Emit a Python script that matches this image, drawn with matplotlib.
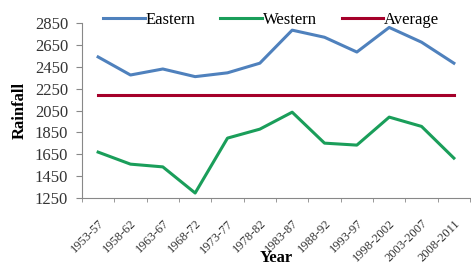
import matplotlib
matplotlib.use("Agg")
import matplotlib.pyplot as plt
import numpy as np

periods = ["1953-57", "1958-62", "1963-67", "1968-72", "1973-77", "1978-82",
           "1983-87", "1988-92", "1993-97", "1998-2002", "2003-2007", "2008-2011"]
eastern = [2540, 2375, 2430, 2360, 2395, 2483, 2785, 2720, 2585, 2810, 2675, 2483]
western = [1670, 1560, 1535, 1296, 1798, 1880, 2035, 1752, 1734, 1990, 1905, 1615]
average = [2195] * len(periods)

plt.rcParams['font.family'] = ['Liberation Serif', 'DejaVu Serif']

fig = plt.figure(figsize=(4.71, 2.68), dpi=100)
ax = fig.add_axes([0.174, 0.261, 0.824, 0.653])

x = np.arange(len(periods))
ax.plot(x, eastern, color='#4F81BD', lw=2.2, label='Eastern')
ax.plot(x, western, color='#1A9E5A', lw=2.2, label='Western')
ax.plot(x, average, color='#A5002A', lw=2.2, label='Average')

ax.set_xlim(-0.5, len(periods) - 0.5)
ax.set_ylim(1250, 2850)
ax.set_yticks(np.arange(1250, 2851, 200))
ax.tick_params(axis='y', labelsize=12, length=4, color='#888888', pad=6, labelcolor='#333333')

ax.set_xticks(x)
ax.set_xticklabels(periods, rotation=45, ha='right', rotation_mode='anchor',
                   fontsize=9, color='#333333')
ax.set_xticks(np.arange(-0.5, len(periods), 1), minor=True)
ax.tick_params(axis='x', which='major', length=0, pad=14)
ax.tick_params(axis='x', which='minor', length=3, color='#888888')

for s in ['top', 'right']:
    ax.spines[s].set_visible(False)
for s in ['left', 'bottom']:
    ax.spines[s].set_color('#888888')

ax.set_ylabel('Rainfall', fontsize=12, fontweight='bold', labelpad=5)
ax.set_xlabel('Year', fontsize=12, fontweight='bold', labelpad=-10)

fig.legend(loc='center left', bbox_to_anchor=(103 / 471, 1 - 20 / 268), ncol=3,
           frameon=False, fontsize=12, handlelength=2.5, handletextpad=0.05,
           columnspacing=1.5, borderpad=0, borderaxespad=0)

fig.savefig('out.png', dpi=100)
